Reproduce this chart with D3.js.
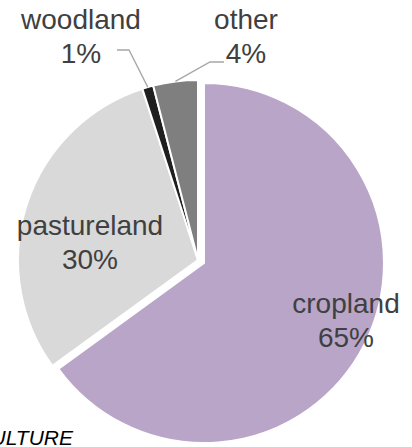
<!DOCTYPE html>
<html>
<head>
<meta charset="utf-8">
<script src="https://cdn.jsdelivr.net/npm/d3@7/dist/d3.min.js"></script>
<style>
  html, body { margin: 0; padding: 0; background: #fff; }
  svg { display: block; }
  text { font-family: "Liberation Sans", Arial, Helvetica, sans-serif; }
</style>
</head>
<body>
<svg id="chart" width="412" height="447"></svg>
<script>
// Land use shares (percent)
const categories = ["cropland", "pastureland", "woodland", "other"];
const shares = [65, 30, 1, 4];
const sourceNote = "AGRICULTURE";

// Styling per category
const sliceColors = ["#b8a5c8", "#d9d9d9", "#1f1f1f", "#7f7f7f"];
const explode = [6.7, 0, 0, 0];

const width = 412, height = 447;
const cx = 198, cy = 260, radius = 180;

// Label layout: [x, first-line baseline]; leader marks labels outside the pie
const labelLayout = {
  cropland:    { x: 346, y: 313 },
  pastureland: { x: 90,  y: 235 },
  woodland:    { x: 81,  y: 29, leader: [[117, 50], [129, 50]] },
  other:       { x: 246, y: 29, leader: [[224, 62], [210, 62]] }
};

const data = categories.map((c, i) => ({ name: c, value: shares[i], color: sliceColors[i], explode: explode[i] }));

const svg = d3.select("#chart");
const g = svg.append("g").attr("transform", `translate(${cx},${cy})`);

const pie = d3.pie().value(d => d.value).sort(null).startAngle(0).endAngle(2 * Math.PI);
const arc = d3.arc().innerRadius(0).outerRadius(radius);
const rim = d3.arc().innerRadius(radius).outerRadius(radius);

const arcs = pie(data);

g.selectAll("path.slice")
  .data(arcs)
  .join("path")
  .attr("class", "slice")
  .attr("d", arc)
  .attr("fill", d => d.data.color)
  .attr("stroke", "#fff")
  .attr("stroke-width", 2)
  .attr("stroke-linejoin", "miter")
  .attr("transform", d => {
    const mid = (d.startAngle + d.endAngle) / 2;
    const o = d.data.explode;
    return `translate(${o * Math.sin(mid)},${-o * Math.cos(mid)})`;
  });

// Leader lines from outside labels to the slice rim
arcs.forEach(d => {
  const lay = labelLayout[d.data.name];
  if (!lay.leader) return;
  const [ex, ey] = rim.centroid(d);
  const pts = lay.leader.map(p => [p[0], p[1]]).concat([[cx + ex, cy + ey]]);
  svg.append("path")
    .attr("d", d3.line()(pts))
    .attr("fill", "none")
    .attr("stroke", "#a6a6a6")
    .attr("stroke-width", 1.3);
});

// Category name and percentage labels
arcs.forEach(d => {
  const lay = labelLayout[d.data.name];
  const t = svg.append("text")
    .attr("x", lay.x)
    .attr("y", lay.y)
    .attr("text-anchor", "middle")
    .attr("fill", "#404040")
    .attr("font-size", 28);
  t.append("tspan").attr("x", lay.x).text(d.data.name);
  t.append("tspan").attr("x", lay.x).attr("dy", 34).text(d.data.value + "%");
});

// Footer note, right-aligned at the lower left
svg.append("text")
  .attr("x", 73)
  .attr("y", 445)
  .attr("text-anchor", "end")
  .attr("font-size", 21)
  .attr("font-style", "italic")
  .attr("fill", "#000")
  .text(sourceNote);
</script>
</body>
</html>
